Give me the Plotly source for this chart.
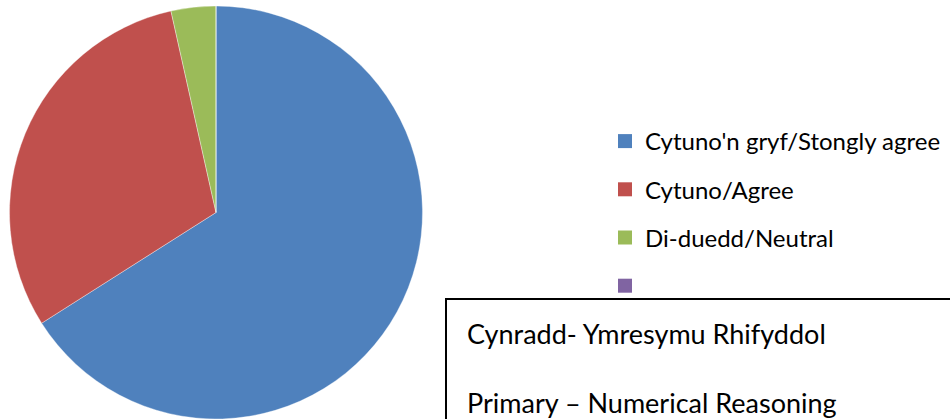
import plotly.graph_objects as go

categories = ["Cytuno'n gryf/Stongly agree", "Cytuno/Agree", "Di-duedd/Neutral", ""]
values = [66.0, 30.5, 3.5, 0.0]
colors = ["#4F81BD", "#C0504D", "#9BBB59", "#8064A2"]
box_lines = ["Cynradd- Ymresymu Rhifyddol", "Primary \u2013 Numerical Reasoning"]

FONT = "Lato"
W, H = 950, 419

fig = go.Figure()
fig.add_trace(go.Pie(
    labels=categories,
    values=values,
    sort=False,
    direction="clockwise",
    rotation=0,
    marker=dict(colors=colors, line=dict(color="rgba(255,255,255,0.6)", width=0.6)),
    textinfo="none",
    hoverinfo="label+percent",
    showlegend=False,
    domain=dict(x=[9 / W, 423 / W], y=[0, 1 - 6 / H]),
))

# legend entries (one per category) using marker-only traces
for i, (cat, col) in enumerate(zip(categories, colors)):
    fig.add_trace(go.Scatter(
        x=[None], y=[None], mode="markers",
        marker=dict(symbol="square", size=14, color=col),
        name=cat if cat else " ",
        legendgroup=f"g{i}",
        showlegend=True,
        hoverinfo="skip",
    ))

fig.add_shape(type="rect", xref="paper", yref="paper",
              x0=446 / W, x1=1.02, y0=-0.05, y1=(H - 299) / H,
              line=dict(color="black", width=2), fillcolor="rgba(0,0,0,0)")

fig.add_annotation(text=box_lines[0], xref="paper", yref="paper",
                   x=465 / W, y=(H - 333) / H, xanchor="left", yanchor="middle",
                   showarrow=False, font=dict(family=FONT, size=27, color="black"))
fig.add_annotation(text=box_lines[1], xref="paper", yref="paper",
                   x=465 / W, y=(H - 402) / H, xanchor="left", yanchor="middle",
                   showarrow=False, font=dict(family=FONT, size=27, color="black"))

fig.update_layout(
    width=W, height=H,
    margin=dict(l=0, r=0, t=0, b=0),
    paper_bgcolor="white", plot_bgcolor="white",
    xaxis=dict(visible=False), yaxis=dict(visible=False),
    font=dict(family=FONT, size=24, color="black"),
    legend=dict(
        x=605 / W, y=(H - 119) / H, xanchor="left", yanchor="top",
        tracegroupgap=14, bgcolor="rgba(0,0,0,0)", borderwidth=0,
        font=dict(family=FONT, size=24, color="black"),
    ),
)

fig.write_html(
    "out.html",
    config={"displayModeBar": False},
    post_script="document.body.style.margin='0';document.body.style.overflow='hidden';",
)
